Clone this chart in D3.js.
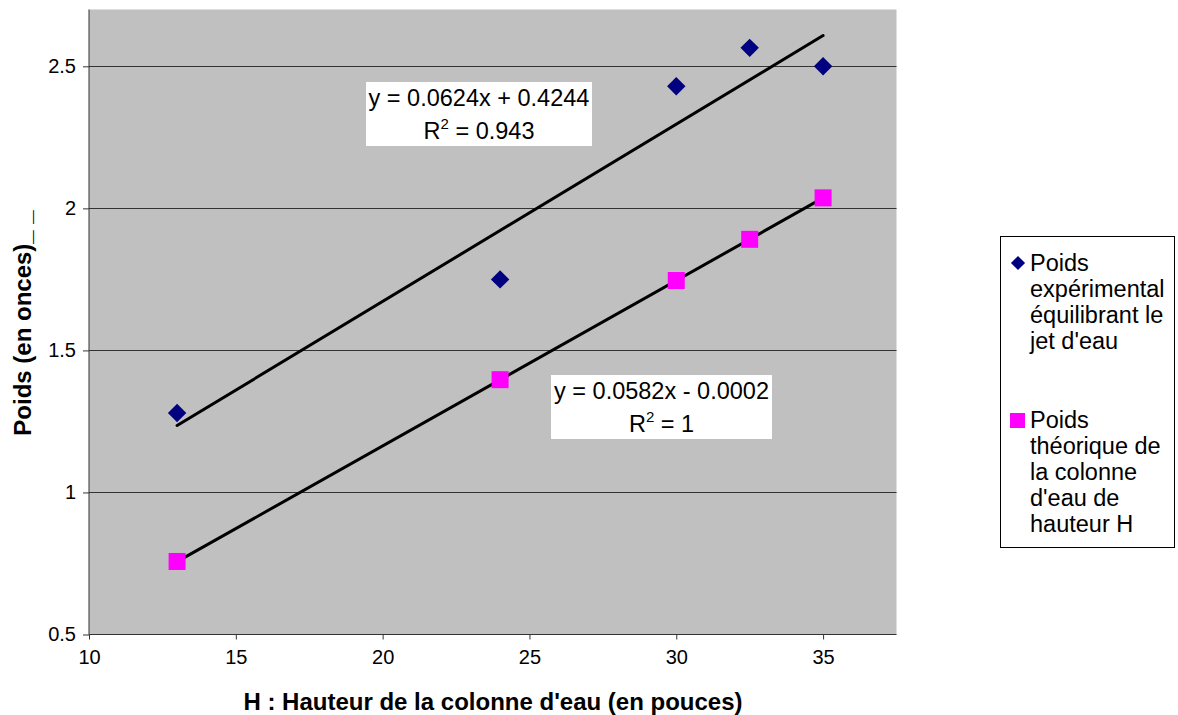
<!DOCTYPE html>
<html>
<head>
<meta charset="utf-8">
<script src="https://cdn.jsdelivr.net/npm/d3@7"></script>
<style>
  body { margin: 0; background: #fff; }
  text { font-family: "Liberation Sans", Arial, sans-serif; }
</style>
</head>
<body>
<svg id="chart" width="1178" height="715"></svg>
<script>
// hauteur H (pouces)
const hauteurs = [13, 24, 30, 32.5, 35];
const poidsExp = [1.28, 1.75, 2.43, 2.565, 2.50];
const poidsTheo = [0.757, 1.397, 1.746, 1.891, 2.037];

// trendline equations as printed on the chart
const trendSlopes = [0.0624, 0.0582];
const trendIntercepts = [0.4244, -0.0002];
const trendEq = ["y = 0.0624x + 0.4244", "y = 0.0582x - 0.0002"];
const trendR2 = ["0.943", "1"];

const xTicks = [10, 15, 20, 25, 30, 35];
const yTicks = [0.5, 1, 1.5, 2, 2.5];

const seriesNames = [
  ["Poids", "expérimental", "équilibrant le", "jet d'eau"],
  ["Poids", "théorique de", "la colonne", "d'eau de", "hauteur H"]
];
const seriesColors = ["#000080", "#FF00FF"];

const margin = {top: 9.5, left: 89, right: 896.5, bottom: 634.5};

const svg = d3.select("#chart");

const x = d3.scaleLinear().domain([10, 37.5]).range([margin.left, margin.right]);
const y = d3.scaleLinear().domain([0.5, 2.7]).range([margin.bottom, margin.top]);

// plot area
svg.append("rect")
  .attr("x", margin.left).attr("y", margin.top)
  .attr("width", margin.right - margin.left)
  .attr("height", margin.bottom - margin.top)
  .attr("fill", "#C0C0C0");

// gridlines
svg.append("g").selectAll("line")
  .data(yTicks.filter(d => d > 0.5))
  .enter().append("line")
  .attr("x1", margin.left).attr("x2", margin.right)
  .attr("y1", d => Math.round(y(d)) + 0.5).attr("y2", d => Math.round(y(d)) + 0.5)
  .attr("stroke", "#333").attr("stroke-width", 1);

// axes
const xAxis = svg.append("g")
  .attr("transform", `translate(0, ${margin.bottom})`)
  .call(d3.axisBottom(x).tickValues(xTicks).tickSize(5).tickPadding(10).tickFormat(d3.format("")));
const yAxis = svg.append("g")
  .attr("transform", `translate(${margin.left}, 0)`)
  .call(d3.axisLeft(y).tickValues(yTicks).tickSize(6).tickPadding(7).tickFormat(d3.format("")));

[xAxis, yAxis].forEach(a => {
  a.select(".domain").attr("stroke", "#333");
  a.selectAll(".tick line").attr("stroke", "#333");
  a.selectAll(".tick text")
    .style("font-family", "'Liberation Sans', Arial, sans-serif")
    .style("font-size", "20px").attr("fill", "#000");
});
yAxis.select(".domain").attr("d", `M0,${margin.bottom}V${margin.top}`);
xAxis.select(".domain").attr("d", `M${margin.left},0H${margin.right}`);

// trendlines
const xMin = d3.min(hauteurs), xMax = d3.max(hauteurs);
trendSlopes.forEach((m, i) => {
  const b = trendIntercepts[i];
  svg.append("line")
    .attr("x1", x(xMin)).attr("y1", y(m * xMin + b))
    .attr("x2", x(xMax)).attr("y2", y(m * xMax + b))
    .attr("stroke", "#000").attr("stroke-width", 3).attr("stroke-linecap", "round");
});

// points
const diamond = d3.symbol().type(d3.symbolSquare).size(170);
svg.append("g").selectAll("path")
  .data(hauteurs.map((h, i) => [h, poidsExp[i]]))
  .enter().append("path")
  .attr("d", diamond)
  .attr("transform", d => `translate(${x(d[0])}, ${y(d[1])}) rotate(45)`)
  .attr("fill", seriesColors[0]);

svg.append("g").selectAll("rect")
  .data(hauteurs.map((h, i) => [h, poidsTheo[i]]))
  .enter().append("rect")
  .attr("x", d => x(d[0]) - 8.5).attr("y", d => y(d[1]) - 8.5)
  .attr("width", 17).attr("height", 17)
  .attr("fill", seriesColors[1]);

// equation labels
const eqBoxes = [
  {x: 366, y: 82, w: 226, h: 64},
  {x: 551, y: 375, w: 221, h: 64}
];
eqBoxes.forEach((bx, i) => {
  const g = svg.append("g");
  g.append("rect").attr("x", bx.x).attr("y", bx.y)
    .attr("width", bx.w).attr("height", bx.h).attr("fill", "#fff");
  const cx = bx.x + bx.w / 2;
  g.append("text").attr("x", cx).attr("y", bx.y + 24)
    .attr("text-anchor", "middle").style("font-size", "23.5px")
    .text(trendEq[i]);
  const t = g.append("text").attr("x", cx).attr("y", bx.y + 57)
    .attr("text-anchor", "middle").style("font-size", "23.5px");
  t.append("tspan").text("R");
  t.append("tspan").attr("dy", -10).style("font-size", "15px").text("2");
  t.append("tspan").attr("dy", 10).text(" = " + trendR2[i]);
});

// axis titles
svg.append("text")
  .attr("x", 493).attr("y", 710)
  .attr("text-anchor", "middle")
  .style("font-size", "24px").style("font-weight", "bold")
  .text("H : Hauteur de la colonne d'eau (en pouces)");

svg.append("text")
  .attr("transform", "translate(31, 323) rotate(-90)")
  .attr("text-anchor", "middle")
  .style("font-size", "24px").style("font-weight", "bold")
  .text("Poids (en onces)_ _");

// legend
const legend = svg.append("g");
legend.append("rect")
  .attr("x", 1000.5).attr("y", 236.5).attr("width", 174).attr("height", 311)
  .attr("fill", "#fff").attr("stroke", "#000").attr("stroke-width", 1);

const legendTop = [271, 428];
seriesNames.forEach((lines, i) => {
  const ty = legendTop[i];
  if (i === 0) {
    legend.append("path")
      .attr("d", d3.symbol().type(d3.symbolSquare).size(100))
      .attr("transform", `translate(1018, ${ty - 8}) rotate(45)`)
      .attr("fill", seriesColors[0]);
  } else {
    legend.append("rect")
      .attr("x", 1010).attr("y", ty - 15).attr("width", 15).attr("height", 15)
      .attr("fill", seriesColors[1]);
  }
  const t = legend.append("text").attr("x", 1030).attr("y", ty)
    .style("font-size", "23.5px");
  lines.forEach((l, j) => {
    t.append("tspan").attr("x", 1030).attr("dy", j === 0 ? 0 : 26).text(l);
  });
});
</script>
</body>
</html>
